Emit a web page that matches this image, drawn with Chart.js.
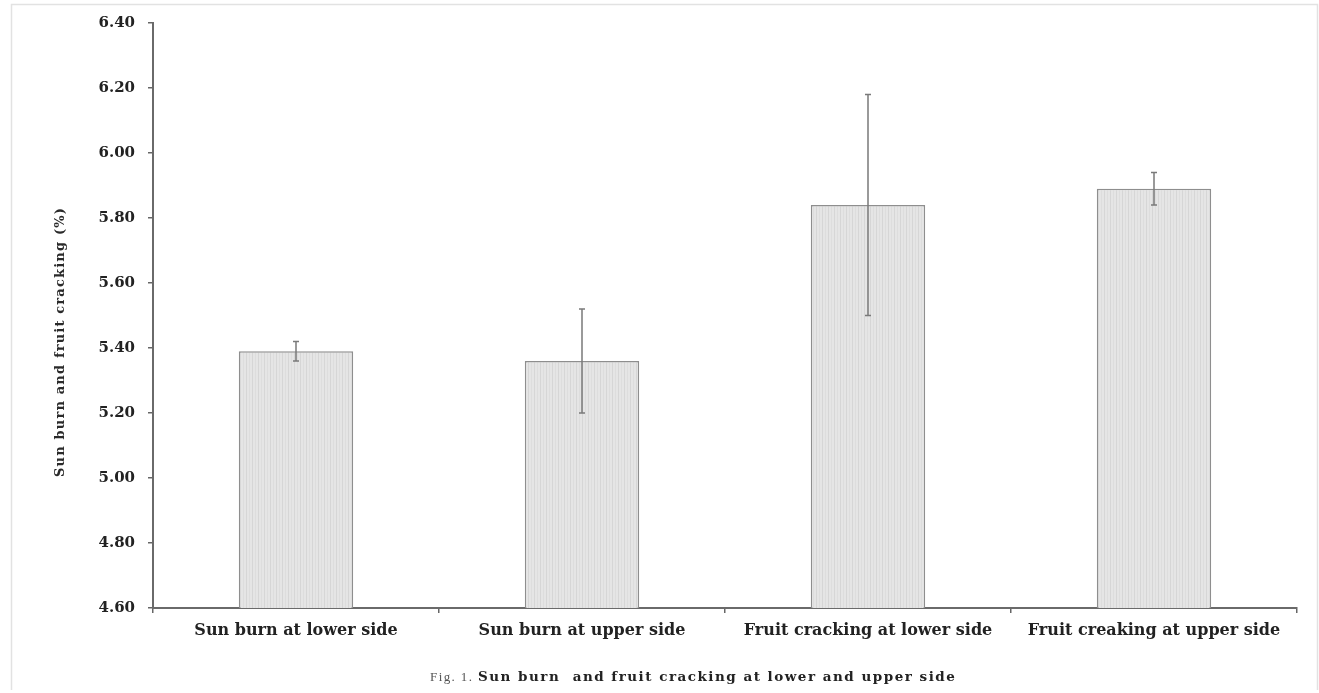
<!DOCTYPE html>
<html>
<head>
<meta charset="utf-8">
<title>Sun burn and fruit cracking</title>
<script src="https://cdn.jsdelivr.net/npm/chart.js@4.4.1/dist/chart.umd.min.js"></script>
<style>
  html, body { margin: 0; padding: 0; background: #fff; }
  #wrap { position: relative; width: 1319px; height: 693px; }
  canvas { display: block; }
</style>
</head>
<body>
<div id="wrap"><canvas id="c" width="1319" height="693"></canvas></div>
<script>
// Mean values (%) and their error margins
const categories = [
  'Sun burn at lower side',
  'Sun burn at upper side',
  'Fruit cracking at lower side',
  'Fruit creaking at upper side'
];
const means = [5.39, 5.36, 5.84, 5.89];
const errors = [0.03, 0.16, 0.34, 0.05];
const yTicks = [4.6, 4.8, 5.0, 5.2, 5.4, 5.6, 5.8, 6.0, 6.2, 6.4];
const yTitle = 'Sun burn and fruit cracking (%)';
const captionLead = 'Fig. 1.';
const captionText = 'Sun burn  and fruit cracking at lower and upper side';

const SERIF = '"DejaVu Serif", "Liberation Serif", serif';
const TIMES = '"Liberation Serif", serif';

// Light grey fill with fine vertical hatching
function stripePattern(ctx) {
  const p = document.createElement('canvas');
  p.width = 6; p.height = 6;
  const g = p.getContext('2d');
  g.fillStyle = '#e5e5e5';
  g.fillRect(0, 0, 6, 6);
  g.fillStyle = '#d6d6d6';
  g.fillRect(0, 0, 1, 6);
  g.fillStyle = '#dddddd';
  g.fillRect(3, 0, 1, 6);
  return ctx.createPattern(p, 'repeat');
}

// Sets letter spacing so that text fills the given width
function spaceToWidth(ctx, text, width) {
  ctx.letterSpacing = '0px';
  const w = ctx.measureText(text).width;
  const s = Math.max(0, (width - w) / (text.length - 1));
  ctx.letterSpacing = s.toFixed(2) + 'px';
}

// Error bars drawn from the same scales as the bars
const errorBars = {
  id: 'errorBars',
  afterDatasetsDraw(chart) {
    const { ctx, scales: { y } } = chart;
    const meta = chart.getDatasetMeta(0);
    ctx.save();
    ctx.strokeStyle = '#7a7a7a';
    ctx.lineWidth = 1.5;
    meta.data.forEach((bar, i) => {
      const cx = bar.x;
      const top = y.getPixelForValue(means[i] + errors[i]);
      const bot = y.getPixelForValue(means[i] - errors[i]);
      ctx.beginPath();
      ctx.moveTo(cx, top); ctx.lineTo(cx, bot);
      ctx.moveTo(cx - 3, top); ctx.lineTo(cx + 3, top);
      ctx.moveTo(cx - 3, bot); ctx.lineTo(cx + 3, bot);
      ctx.stroke();
    });
    ctx.restore();
  }
};

// Frame, rotated axis title and figure caption
const decorations = {
  id: 'decorations',
  beforeDraw(chart) {
    const { ctx } = chart;
    ctx.save();
    ctx.strokeStyle = '#e2e2e2';
    ctx.lineWidth = 1.5;
    ctx.beginPath();
    ctx.moveTo(11.5, 690); ctx.lineTo(11.5, 4.5); ctx.lineTo(1317.5, 4.5); ctx.lineTo(1317.5, 690);
    ctx.stroke();
    ctx.restore();
  },
  afterDraw(chart) {
    const { ctx } = chart;
    // vertical axis title
    ctx.save();
    ctx.fillStyle = '#2a2a2a';
    ctx.font = 'bold 13px ' + SERIF;
    spaceToWidth(ctx, yTitle, 269);
    ctx.textAlign = 'left';
    ctx.textBaseline = 'middle';
    ctx.translate(61, 477);
    ctx.rotate(-Math.PI / 2);
    ctx.fillText(yTitle, 0, 0);
    ctx.restore();

    // caption
    ctx.save();
    ctx.textBaseline = 'middle';
    ctx.textAlign = 'left';
    ctx.fillStyle = '#555';
    ctx.font = '13px ' + TIMES;
    spaceToWidth(ctx, captionLead, 42);
    ctx.fillText(captionLead, 430, 678);
    ctx.fillStyle = '#222';
    ctx.font = 'bold 13.5px ' + SERIF;
    spaceToWidth(ctx, captionText, 477);
    ctx.fillText(captionText, 478, 677);
    ctx.restore();
  }
};

const ctx = document.getElementById('c').getContext('2d');
new Chart(ctx, {
  type: 'bar',
  data: {
    labels: categories,
    datasets: [{
      data: means,
      backgroundColor: stripePattern(ctx),
      borderColor: '#8e8e8e',
      borderWidth: 1.5,
      borderSkipped: 'bottom',
      categoryPercentage: 1.0,
      barPercentage: 0.4
    }]
  },
  options: {
    responsive: false,
    animation: false,
    devicePixelRatio: 1,
    layout: { padding: { left: 40, right: 22, top: 23, bottom: 0 } },
    plugins: { legend: { display: false }, tooltip: { enabled: false } },
    scales: {
      x: {
        grid: { display: true, drawOnChartArea: false, drawTicks: true, tickLength: 5, offset: true, color: '#666', lineWidth: 1.5 },
        border: { display: true, color: '#6a6a6a', width: 2 },
        ticks: {
          color: '#222',
          padding: 8,
          maxRotation: 0,
          autoSkip: false,
          font: { family: SERIF, size: 16, weight: 'bold' }
        },
        afterFit(scale) { scale.height = 85; }
      },
      y: {
        min: yTicks[0],
        max: yTicks[yTicks.length - 1],
        afterBuildTicks(scale) { scale.ticks = yTicks.map(v => ({ value: v })); },
        grid: { display: true, drawOnChartArea: false, drawTicks: true, tickLength: 5, color: '#666', lineWidth: 1.5 },
        border: { display: true, color: '#6a6a6a', width: 2 },
        ticks: {
          color: '#222',
          padding: 13,
          callback: v => Number(v).toFixed(2),
          font: { family: SERIF, size: 15, weight: 'bold' }
        },
        afterFit(scale) { scale.width = 113; }
      }
    }
  },
  plugins: [errorBars, decorations]
});
</script>
</body>
</html>
